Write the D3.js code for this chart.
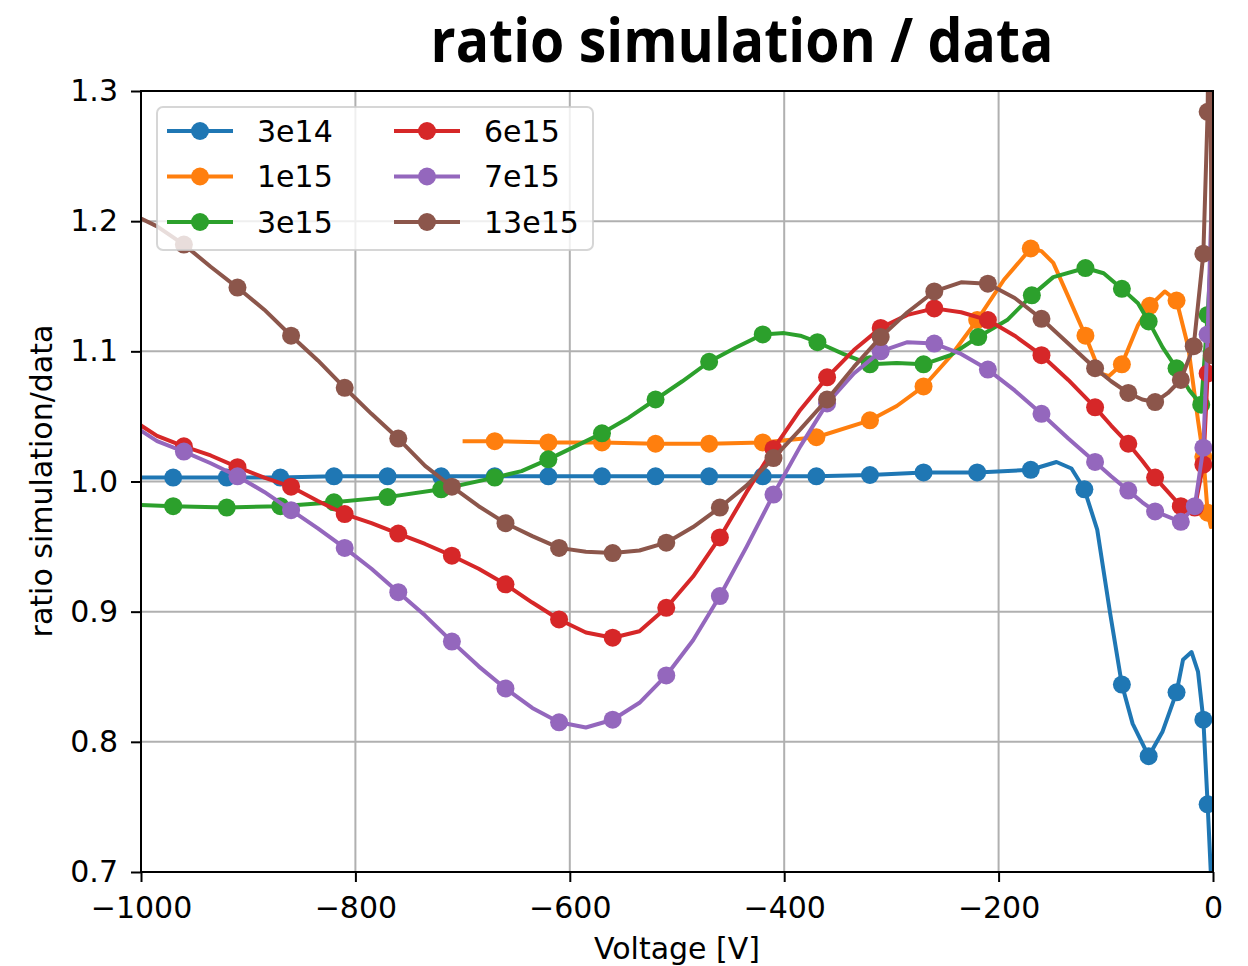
<!DOCTYPE html>
<html>
<head>
<meta charset="utf-8">
<script src="https://cdn.jsdelivr.net/npm/d3@7"></script>
<style>
body{margin:0;background:#fff;}
text{font-family:"DejaVu Sans",sans-serif;}
</style>
</head>
<body>
<svg id="chart"></svg>
<script>
// ratio simulation / data

var W=1248,H=966;
var L=141,R=1213,T=91,B=872;

// data

var names=["3e14","1e15","3e15","6e15","7e15","13e15"];
var colors=["#1f77b4","#ff7f0e","#2ca02c","#d62728","#9467bd","#8c564b"];

var v3e14=[-1000,-970,-920,-870,-820,-770,-720,-670,-620,-570,-520,-470,-420,-370,-320,-270,-220,-170,-146,-132,-120,-108,-96,-85,-75,-60,-47,-34,-28,-20,-14,-9,-5,-2,0];
var r3e14=[1.003,1.003,1.003,1.003,1.004,1.004,1.004,1.004,1.004,1.004,1.004,1.004,1.004,1.004,1.005,1.007,1.007,1.009,1.015,1.010,0.994,0.963,0.899,0.844,0.814,0.789,0.808,0.838,0.863,0.869,0.854,0.817,0.752,0.699,0.66];
var m3e14=[-970,-920,-870,-820,-770,-720,-670,-620,-570,-520,-470,-420,-370,-320,-270,-220,-170,-120,-85,-60,-34,-9,-5];

var v1e15=[-700,-670,-620,-570,-520,-470,-420,-370,-320,-295,-270,-245,-220,-195,-170,-160,-149,-135,-119,-105,-97,-85,-70,-59,-45,-34,-23,-14,-9,-5,-2,0];
var r1e15=[1.031,1.031,1.030,1.030,1.029,1.029,1.030,1.034,1.047,1.058,1.073,1.096,1.124,1.155,1.179,1.177,1.168,1.142,1.112,1.083,1.081,1.090,1.120,1.135,1.146,1.139,1.103,1.047,1.019,0.976,0.965,0.970];
var m1e15=[-670,-620,-570,-520,-470,-420,-370,-320,-270,-220,-170,-119,-85,-59,-34,-9,-5];

var v3e15=[-1000,-970,-920,-870,-820,-770,-720,-670,-645,-620,-595,-570,-545,-520,-495,-470,-445,-420,-400,-385,-369,-345,-320,-295,-270,-245,-219,-192,-169,-149,-119,-102,-85,-70,-60,-47,-34,-22,-11,-5,0];
var r3e15=[0.982,0.981,0.980,0.981,0.984,0.988,0.994,1.003,1.008,1.017,1.027,1.037,1.049,1.063,1.077,1.092,1.103,1.113,1.114,1.112,1.107,1.098,1.090,1.091,1.090,1.097,1.111,1.124,1.143,1.157,1.164,1.160,1.148,1.137,1.123,1.103,1.087,1.070,1.059,1.128,1.200];
var m3e15=[-970,-920,-870,-820,-770,-720,-670,-620,-570,-520,-470,-420,-369,-320,-270,-219,-169,-119,-85,-60,-34,-11,-5];

var v6e15=[-1000,-985,-960,-935,-910,-885,-860,-835,-810,-785,-760,-735,-710,-685,-660,-635,-610,-585,-560,-535,-510,-485,-460,-435,-410,-385,-360,-335,-310,-285,-260,-235,-210,-185,-160,-135,-110,-95,-79,-66,-54,-42,-30,-17,-9,-5,0];
var r6e15=[1.043,1.035,1.027,1.020,1.011,1.003,0.996,0.985,0.975,0.968,0.960,0.952,0.943,0.933,0.921,0.907,0.894,0.884,0.880,0.885,0.903,0.927,0.957,0.992,1.025,1.055,1.080,1.101,1.118,1.128,1.133,1.130,1.124,1.112,1.097,1.078,1.057,1.043,1.029,1.016,1.003,0.992,0.981,0.980,1.013,1.083,1.150];
var m6e15=[-960,-910,-860,-810,-760,-710,-660,-610,-560,-510,-460,-410,-360,-310,-260,-210,-160,-110,-79,-54,-30,-17,-9,-5];

var v7e15=v6e15;
var r7e15=[1.039,1.031,1.023,1.014,1.004,0.992,0.978,0.964,0.949,0.933,0.915,0.897,0.877,0.858,0.841,0.826,0.815,0.811,0.817,0.830,0.851,0.878,0.912,0.950,0.990,1.027,1.060,1.083,1.100,1.107,1.106,1.098,1.086,1.070,1.052,1.033,1.015,1.004,0.993,0.984,0.977,0.973,0.969,0.981,1.026,1.113,1.250];
var m7e15=m6e15;

var v13e15=[-1000,-985,-960,-935,-910,-885,-860,-835,-810,-785,-760,-735,-710,-685,-660,-635,-610,-585,-560,-535,-510,-485,-460,-435,-410,-385,-360,-335,-310,-285,-260,-235,-210,-185,-160,-135,-110,-95,-79,-66,-54,-42,-30,-18,-9,-5,-3,-1];
var r13e15=[1.202,1.196,1.182,1.165,1.149,1.132,1.112,1.093,1.072,1.052,1.033,1.012,0.996,0.981,0.968,0.958,0.949,0.946,0.945,0.947,0.953,0.965,0.980,0.997,1.018,1.040,1.063,1.088,1.111,1.130,1.146,1.153,1.152,1.141,1.125,1.106,1.087,1.077,1.068,1.063,1.061,1.068,1.078,1.104,1.175,1.284,1.450,1.097];
var m13e15=[-960,-910,-860,-810,-760,-710,-660,-610,-560,-510,-460,-410,-360,-310,-260,-210,-160,-110,-79,-54,-30,-18,-9,-5,-1];

var xTicks=[-1000,-800,-600,-400,-200,0];
var yTicks=[0.7,0.8,0.9,1.0,1.1,1.2,1.3];

var volts=[v3e14,v1e15,v3e15,v6e15,v7e15,v13e15];
var ratios=[r3e14,r1e15,r3e15,r6e15,r7e15,r13e15];
var marks=[m3e14,m1e15,m3e15,m6e15,m7e15,m13e15];

var series=names.map(function(n,i) {
	var pts=volts[i].map(function(v,j) {return {v:v,r:ratios[i][j]};});
	return {name:n,color:colors[i],pts:pts,
		mk:pts.filter(function(p) {return marks[i].indexOf(p.v)>=0;})};
});

// layout

var svg=d3.select("#chart").attr("width",W).attr("height",H);
var x=d3.scaleLinear().domain([-1000,0]).range([L,R]);
var y=d3.scaleLinear().domain([0.7,1.3]).range([B,T]);

svg.append("defs").append("clipPath").attr("id","clip")
	.append("rect").attr("x",L).attr("y",T).attr("width",R-L).attr("height",B-T);

// grid
svg.append("g").selectAll("line").data(xTicks).enter().append("line")
	.attr("x1",x).attr("x2",x).attr("y1",T).attr("y2",B)
	.style("stroke","#b0b0b0").style("stroke-width",2);
svg.append("g").selectAll("line").data(yTicks).enter().append("line")
	.attr("y1",y).attr("y2",y).attr("x1",L).attr("x2",R)
	.style("stroke","#b0b0b0").style("stroke-width",2);

// series
var line=d3.line().x(function(d) {return x(d.v);}).y(function(d) {return y(d.r);});
var gS=svg.append("g").attr("clip-path","url(#clip)")
	.selectAll(".series").data(series).enter().append("g");
gS.append("path")
	.attr("d",function(d) {return line(d.pts);})
	.style("fill","none").style("stroke",function(d) {return d.color;})
	.style("stroke-width",4).style("stroke-linejoin","round");
gS.selectAll("circle").data(function(d) {return d.mk.map(function(p) {return {p:p,c:d.color};});})
	.enter().append("circle")
	.attr("cx",function(d) {return x(d.p.v);})
	.attr("cy",function(d) {return y(d.p.r);})
	.attr("r",9)
	.style("fill",function(d) {return d.c;});

// axes
var xAxis=svg.append("g").attr("transform","translate(0,"+B+")")
	.call(d3.axisBottom(x).tickValues(xTicks).tickFormat(d3.format("d")).tickSize(10).tickPadding(15).tickSizeOuter(0));
var yAxis=svg.append("g").attr("transform","translate("+L+",0)")
	.call(d3.axisLeft(y).tickValues(yTicks).tickFormat(d3.format(".1f")).tickSize(10).tickPadding(13).tickSizeOuter(0));
[xAxis,yAxis].forEach(function(a) {
	a.select(".domain").remove();
	a.selectAll("line").style("stroke","#000").style("stroke-width",2);
	a.selectAll("text").style("font-family","DejaVu Sans").style("font-size","30px").style("fill","#000");
});

svg.append("rect").attr("x",L).attr("y",T).attr("width",R-L).attr("height",B-T)
	.style("fill","none").style("stroke","#000").style("stroke-width",2);

// labels
svg.append("text").attr("x",(L+R)/2).attr("y",959).attr("text-anchor","middle")
	.style("font-size","30px").text("Voltage [V]");
svg.append("text").attr("transform","translate(52,481) rotate(-90)").attr("text-anchor","middle")
	.style("font-size","30px").text("ratio simulation/data");
svg.append("text").attr("x",742).attr("y",62).attr("text-anchor","middle")
	.attr("textLength",623).attr("lengthAdjust","spacingAndGlyphs")
	.style("font-family","'Open Sans'").style("font-weight","bold").style("font-size","60px")
	.text("ratio simulation / data");

// legend
var lg=svg.append("g");
lg.append("rect").attr("x",157).attr("y",107).attr("width",436).attr("height",143).attr("rx",6)
	.style("fill","#fff").style("fill-opacity",0.8).style("stroke","#ccc").style("stroke-opacity",0.8).style("stroke-width",2);
var items=lg.selectAll(".item").data(series).enter().append("g")
	.attr("transform",function(d,i) {return "translate("+(i<3?167:394)+","+(131+45.5*(i%3))+")";});
items.append("line").attr("x1",0).attr("x2",66)
	.style("stroke",function(d) {return d.color;}).style("stroke-width",4);
items.append("circle").attr("cx",33).attr("r",9).style("fill",function(d) {return d.color;});
items.append("text").attr("x",90).attr("dy","0.35em").style("font-size","30px").text(function(d) {return d.name;});
</script>
</body>
</html>
